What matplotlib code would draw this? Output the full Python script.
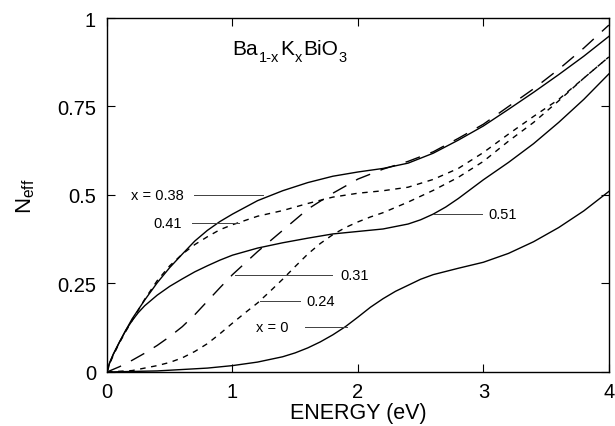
import numpy as np
import matplotlib.pyplot as plt
from matplotlib import transforms

plt.rcParams['font.family'] = ['Liberation Sans', 'DejaVu Sans']
plt.rcParams['mathtext.fontset'] = 'custom'
plt.rcParams['mathtext.rm'] = 'Liberation Sans'
plt.rcParams['mathtext.default'] = 'regular'

# values, energy in eV
e_038 = [0, 0.02, 0.05, 0.1, 0.15, 0.2, 0.3, 0.4, 0.5, 0.6, 0.7, 0.8, 0.9,
         1.0, 1.2, 1.4, 1.6, 1.8, 2.0, 2.2, 2.4, 2.6, 2.8, 3.0, 3.2, 3.4,
         3.6, 3.8, 4.0]
n_038 = [0, 0.025, 0.05, 0.085, 0.118, 0.15, 0.203, 0.252, 0.295, 0.333,
         0.37, 0.4, 0.425, 0.446, 0.484, 0.512, 0.535, 0.553, 0.565, 0.575,
         0.59, 0.618, 0.655, 0.695, 0.742, 0.79, 0.84, 0.892, 0.948]

e_041 = [0, 0.02, 0.05, 0.1, 0.15, 0.2, 0.3, 0.4, 0.5, 0.6, 0.7, 0.8, 0.9,
         1.0, 1.2, 1.4, 1.6, 1.8, 2.0, 2.2, 2.4, 2.6, 2.8, 3.0, 3.2, 3.4,
         3.6, 3.8, 4.0]
n_041 = [0, 0.022, 0.047, 0.083, 0.115, 0.145, 0.205, 0.258, 0.3, 0.333,
         0.36, 0.382, 0.402, 0.416, 0.44, 0.456, 0.476, 0.494, 0.505, 0.512,
         0.522, 0.544, 0.575, 0.62, 0.672, 0.722, 0.77, 0.83, 0.89]

e_051 = [0, 0.02, 0.05, 0.1, 0.15, 0.2, 0.25, 0.3, 0.4, 0.5, 0.6, 0.7, 0.8,
         0.9, 1.0, 1.2, 1.4, 1.6, 1.8, 2.0, 2.2, 2.4, 2.5, 2.6, 2.7, 2.8,
         3.0, 3.2, 3.4, 3.6, 3.8, 4.0]
n_051 = [0, 0.025, 0.05, 0.085, 0.118, 0.145, 0.168, 0.187, 0.217, 0.242,
         0.263, 0.283, 0.3, 0.316, 0.33, 0.35, 0.365, 0.378, 0.39, 0.397,
         0.404, 0.418, 0.43, 0.446, 0.466, 0.49, 0.543, 0.592, 0.645, 0.705,
         0.77, 0.842]

e_031 = [0, 0.1, 0.2, 0.3, 0.4, 0.5, 0.6, 0.7, 0.8, 0.9, 1.0, 1.2, 1.4, 1.6,
         1.8, 2.0, 2.2, 2.4, 2.6, 2.8, 3.0, 3.2, 3.4, 3.6, 3.8, 4.0]
n_031 = [0, 0.015, 0.033, 0.053, 0.075, 0.1, 0.128, 0.162, 0.2, 0.238, 0.275,
         0.34, 0.4, 0.46, 0.505, 0.545, 0.573, 0.595, 0.622, 0.66, 0.7, 0.75,
         0.8, 0.855, 0.915, 0.98]

e_024 = [0, 0.2, 0.4, 0.5, 0.6, 0.7, 0.8, 0.9, 1.0, 1.1, 1.2, 1.3, 1.4, 1.5,
         1.6, 1.7, 1.8, 1.9, 2.0, 2.1, 2.2, 2.4, 2.6, 2.8, 3.0, 3.2, 3.4,
         3.6, 3.8, 4.0]
n_024 = [0, 0.004, 0.018, 0.027, 0.04, 0.058, 0.08, 0.108, 0.138, 0.167,
         0.195, 0.228, 0.262, 0.298, 0.333, 0.363, 0.388, 0.408, 0.424,
         0.438, 0.45, 0.48, 0.513, 0.55, 0.595, 0.652, 0.705, 0.766, 0.83,
         0.89]

e_000 = [0, 0.4, 0.8, 1.0, 1.2, 1.4, 1.5, 1.6, 1.7, 1.8, 1.9, 2.0, 2.1, 2.2,
         2.3, 2.4, 2.5, 2.6, 2.8, 3.0, 3.2, 3.4, 3.6, 3.8, 4.0]
n_000 = [0, 0.003, 0.011, 0.018, 0.028, 0.043, 0.054, 0.068, 0.085, 0.105,
         0.128, 0.155, 0.183, 0.207, 0.228, 0.245, 0.262, 0.275, 0.293, 0.31,
         0.335, 0.368, 0.408, 0.455, 0.51]

xticks = [0, 1, 2, 3, 4]
yticks = [0, 0.25, 0.5, 0.75, 1]
ytick_labels = ['0', '0.25', '0.5', '0.75', '1']

# formula pieces: (text, is_subscript)
formula = [('Ba', False), ('1-x', True), ('K', False), ('x', True),
           ('BiO', False), ('3', True)]

fig = plt.figure(figsize=(6.15, 4.27), dpi=100)
ax = fig.add_axes([0.174, 0.1265, 0.816, 0.829])

lw = 1.0
ax.plot(e_038, n_038, color='k', lw=lw)
ax.plot(e_041, n_041, color='k', lw=lw, dashes=(4, 4))
ax.plot(e_051, n_051, color='k', lw=lw)
ax.plot(e_031, n_031, color='k', lw=lw, dashes=(11, 8))
ax.plot(e_024, n_024, color='k', lw=lw, dashes=(4, 4))
ax.plot(e_000, n_000, color='k', lw=lw)

# curve labels with leader lines
labels = [
    ('x = 0.38', 0.61, 0.50, 'right', (0.69, 1.24)),
    ('0.41', 0.60, 0.42, 'right', (0.68, 1.05)),
    ('0.31', 1.86, 0.275, 'left', (1.02, 1.79)),
    ('0.24', 1.59, 0.20, 'left', (1.22, 1.54)),
    ('x = 0', 1.19, 0.127, 'left', (1.58, 1.91)),
    ('0.51', 3.04, 0.445, 'left', (2.60, 2.99)),
]
for txt, tx, ty, ha, (x0, x1) in labels:
    ax.text(tx, ty, txt, ha=ha, va='center', fontsize=10.5)
    ax.plot([x0, x1], [ty, ty], color='0.25', lw=0.7)

# chemical formula, subscripts set low like in the original
r = fig.canvas.get_renderer()
xoff = 0
for s, sub in formula:
    tr = transforms.offset_copy(ax.transData, fig=fig, x=xoff,
                                y=-7 if sub else 0, units='dots')
    t = ax.text(1.0, 0.898, s, transform=tr, fontsize=10.5 if sub else 15,
                ha='left', va='baseline')
    xoff += t.get_window_extent(r).width + (1 if sub else 0.5)

ax.set_xlim(0, 4)
ax.set_ylim(0, 1)
ax.set_xticks(xticks)
ax.set_yticks(yticks)
ax.set_yticklabels(ytick_labels)
ax.tick_params(direction='in', length=6, width=0.8, labelsize=14.5,
               top=True, right=True)
ax.tick_params(axis='x', pad=7)
ax.tick_params(axis='y', pad=8)
for s in ax.spines.values():
    s.set_linewidth(1.0)

ax.set_xlabel('ENERGY (eV)', fontsize=15.5, labelpad=1)
ax.set_ylabel('N$_{eff}$', fontsize=16, labelpad=14)

fig.savefig('out.png', dpi=100)
